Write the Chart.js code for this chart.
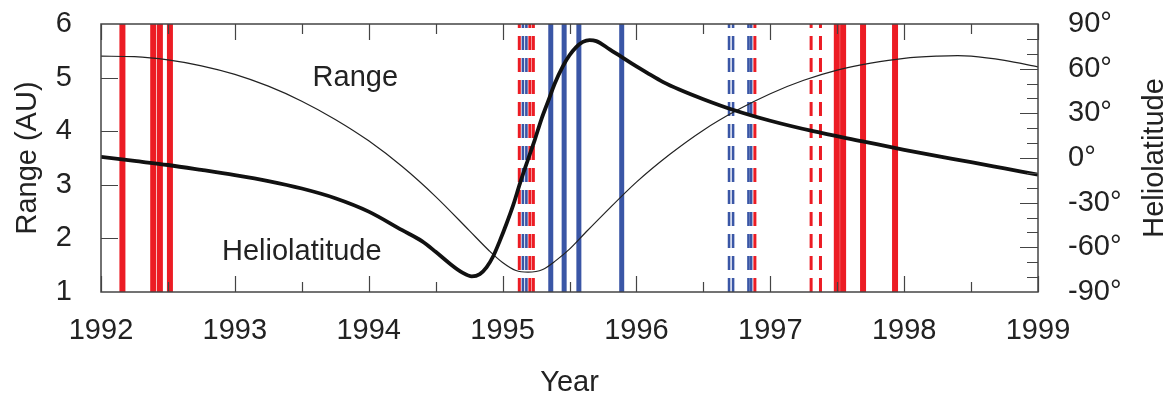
<!DOCTYPE html>
<html>
<head>
<meta charset="utf-8">
<script src="https://cdn.jsdelivr.net/npm/chart.js@4.4.0/dist/chart.umd.min.js"></script>
<style>
  html, body { margin: 0; padding: 0; background: #fff; }
</style>
</head>
<body>
<canvas id="ulyssesChart" width="1174" height="400"></canvas>
<script>
// distance from the Sun (AU)
const rangeYears = [1992.0, 1992.25, 1992.5, 1992.75, 1993.0, 1993.25, 1993.5, 1993.75, 1994.0, 1994.25,
  1994.5, 1994.75, 1994.9, 1995.0, 1995.1, 1995.19, 1995.3, 1995.4, 1995.5, 1995.62, 1995.75,
  1996.0, 1996.25, 1996.5, 1996.75, 1997.0, 1997.25, 1997.5, 1997.75, 1998.0, 1998.25, 1998.4,
  1998.5, 1998.75, 1999.0];
const rangeAU = [5.40, 5.39, 5.33, 5.22, 5.06, 4.84, 4.56, 4.22, 3.82, 3.34,
  2.78, 2.15, 1.77, 1.55, 1.40, 1.37, 1.42, 1.59, 1.80, 2.11, 2.44,
  3.05, 3.57, 4.02, 4.39, 4.70, 4.95, 5.14, 5.27, 5.36, 5.40, 5.41,
  5.40, 5.32, 5.20];

// heliolatitude (deg)
const latYears = [1992.0, 1992.25, 1992.5, 1992.75, 1993.0, 1993.25, 1993.5, 1993.75, 1994.0, 1994.25,
  1994.4, 1994.5, 1994.6, 1994.7, 1994.77, 1994.83, 1994.88, 1994.93, 1994.98, 1995.03, 1995.08,
  1995.13, 1995.19, 1995.24, 1995.29, 1995.34, 1995.39, 1995.45, 1995.5, 1995.55, 1995.6, 1995.65,
  1995.7, 1995.8, 1995.88, 1996.0, 1996.08, 1996.2, 1996.32, 1996.5, 1996.72, 1997.0, 1997.32,
  1997.69, 1998.0, 1998.19, 1998.5, 1998.75, 1999.0];
const latDeg = [0.7, -2, -4.7, -8, -11.5, -15.5, -20.5, -27, -36, -48.5,
  -56, -63, -70.5, -77, -79.5, -78, -73.5, -66, -55.5, -44, -31.5,
  -17, -1, 12, 26, 38, 50, 61.5, 69, 74.5, 78, 79.2,
  78.5, 73, 68.4, 61.5, 57.2, 51, 46, 39.5, 32.4, 25, 18,
  11.2, 5.5, 2.2, -2.8, -7, -11.2];

// event markers (decimal year)
const redSolid = [1992.16, 1992.39, 1992.44, 1992.515, 1997.497, 1997.544, 1997.693, 1997.932];
const redDashed = [1995.125, 1995.204, 1995.23, 1996.885, 1997.305, 1997.375];
const blueSolid = [1995.36, 1995.46, 1995.57, 1995.89];
const blueDashed = [1995.152, 1995.178, 1996.692, 1996.722, 1996.837, 1996.857];

const yearTicks = [1992, 1993, 1994, 1995, 1996, 1997, 1998, 1999];
const halfYearTicks = [1992.5, 1993.5, 1994.5, 1995.5, 1996.5, 1997.5, 1998.5];
const rangeTicks = [2, 3, 4, 5];
const latMajorTicks = [-60, -30, 0, 30, 60];
const latMinorTicks = [-80, -70, -50, -40, -20, -10, 10, 20, 40, 50, 70, 80];

const RED = '#ec1c24';
const BLUE = '#3a56a6';
const FONT = { family: '"Liberation Sans", Arial, sans-serif', size: 29 };

function markerSets(years, color, width, dash) {
  return years.map(yr => ({
    data: [{ x: yr, y: 1 }, { x: yr, y: 6 }],
    yAxisID: 'y',
    borderColor: color,
    borderWidth: width,
    borderDash: dash,
    borderCapStyle: 'butt',
    pointRadius: 0
  }));
}

const frameTicks = {
  id: 'frameTicks',
  afterDatasetsDraw(chart) {
    const { ctx, chartArea: a, scales } = chart;
    ctx.save();
    ctx.strokeStyle = '#444';
    ctx.lineWidth = 1.5;
    ctx.strokeRect(a.left, a.top, a.right - a.left, a.bottom - a.top);

    ctx.beginPath();
    const xTick = (v, len) => {
      const px = Math.round(scales.x.getPixelForValue(v)) + 0.5;
      ctx.moveTo(px, a.bottom); ctx.lineTo(px, a.bottom - len);
      ctx.moveTo(px, a.top); ctx.lineTo(px, a.top + len);
    };
    yearTicks.forEach(v => xTick(v, 16));
    halfYearTicks.forEach(v => xTick(v, 10));
    rangeTicks.forEach(v => {
      const py = Math.round(scales.y.getPixelForValue(v)) + 0.5;
      ctx.moveTo(a.left, py); ctx.lineTo(a.left + 17, py);
    });
    latMajorTicks.forEach(v => {
      const py = Math.round(scales.lat.getPixelForValue(v)) + 0.5;
      ctx.moveTo(a.right, py); ctx.lineTo(a.right - 18, py);
    });
    latMinorTicks.forEach(v => {
      const py = Math.round(scales.lat.getPixelForValue(v)) + 0.5;
      ctx.moveTo(a.right, py); ctx.lineTo(a.right - 11, py);
    });
    ctx.lineWidth = 1.2;
    ctx.stroke();

    // curve labels
    ctx.fillStyle = '#222';
    ctx.font = FONT.size + 'px ' + FONT.family;
    ctx.textAlign = 'center';
    ctx.textBaseline = 'middle';
    ctx.fillText('Range', scales.x.getPixelForValue(1993.9), scales.y.getPixelForValue(5.0));
    ctx.fillText('Heliolatitude', scales.x.getPixelForValue(1993.5), scales.y.getPixelForValue(1.74));

    // right axis title reads bottom to top
    ctx.translate(chart.width - 19, (a.top + a.bottom) / 2);
    ctx.rotate(-Math.PI / 2);
    ctx.fillText('Heliolatitude', 0, 0);
    ctx.restore();
  }
};

new Chart(document.getElementById('ulyssesChart'), {
  type: 'line',
  data: {
    datasets: [
      {
        label: 'Heliolatitude',
        data: latYears.map((x, i) => ({ x: x, y: latDeg[i] })),
        yAxisID: 'lat',
        borderColor: '#111',
        borderWidth: 3.8,
        pointRadius: 0,
        cubicInterpolationMode: 'monotone'
      },
      {
        label: 'Range',
        data: rangeYears.map((x, i) => ({ x: x, y: rangeAU[i] })),
        yAxisID: 'y',
        borderColor: '#222',
        borderWidth: 1.2,
        pointRadius: 0,
        cubicInterpolationMode: 'monotone'
      },
      ...markerSets(blueSolid, BLUE, 5, []),
      ...markerSets(redSolid, RED, 6, []),
      ...markerSets(blueDashed, BLUE, 2.6, [14, 8]),
      ...markerSets(redDashed, RED, 3, [14, 8])
    ]
  },
  options: {
    responsive: false,
    animation: false,
    layout: { padding: { top: 24, left: 0, right: 0, bottom: 0 } },
    plugins: { legend: { display: false }, tooltip: { enabled: false } },
    scales: {
      x: {
        type: 'linear',
        min: 1992,
        max: 1999,
        grid: { display: false },
        border: { display: false },
        ticks: { stepSize: 1, padding: 14, font: FONT, color: '#222', maxRotation: 0, autoSkip: false,
          callback: v => String(v) },
        title: { display: true, text: 'Year', font: FONT, color: '#222', padding: { top: 0, bottom: 0 } },
        afterFit(s) { s.height = 108; s.paddingLeft = 0; s.paddingRight = 0; }
      },
      y: {
        position: 'left',
        min: 1,
        max: 6,
        grid: { display: false },
        border: { display: false },
        ticks: { stepSize: 1, padding: 21, font: FONT, color: '#222' },
        title: { display: true, text: 'Range (AU)', font: FONT, color: '#222', padding: { top: 11, bottom: 0 } },
        afterFit(s) { s.width = 101; s.paddingTop = 0; s.paddingBottom = 0; }
      },
      lat: {
        position: 'right',
        min: -90,
        max: 90,
        grid: { display: false },
        border: { display: false },
        ticks: { stepSize: 30, padding: 22, font: FONT, color: '#222', callback: v => v + '°' },
        afterFit(s) { s.width = 136; s.paddingTop = 0; s.paddingBottom = 0; }
      }
    }
  },
  plugins: [frameTicks]
});
</script>
</body>
</html>
